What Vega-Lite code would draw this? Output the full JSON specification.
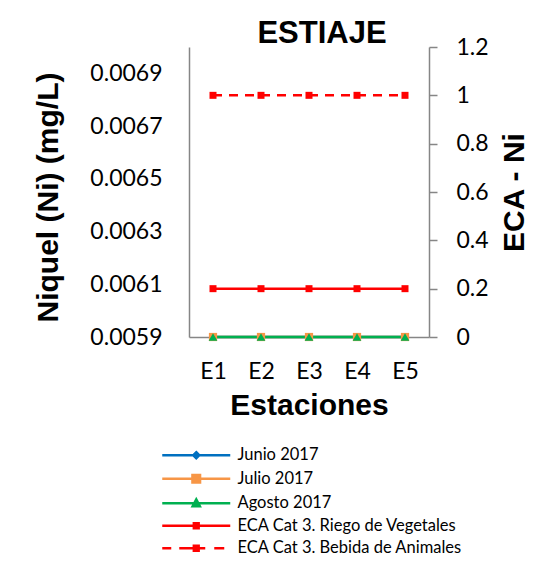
{
  "$schema": "https://vega.github.io/schema/vega-lite/v6.json",
  "width": 240,
  "height": 290,
  "autosize": {"type": "none"},
  "padding": {"left": 189, "top": 47, "right": 118, "bottom": 230},
  "background": "white",
  "config": {
    "view": {"stroke": null},
    "axis": {"grid": false, "domainColor": "#868686", "domainWidth": 1.5, "tickColor": "#868686", "tickWidth": 1.5,
      "labelFont": "Lato", "labelFontSize": 23, "labelColor": "black",
      "titleFont": "Liberation Sans", "titleFontSize": 30, "titleFontWeight": "bold", "titleColor": "black"}
  },
  "title": {"text": "ESTIAJE", "font": "Liberation Sans", "fontSize": 31, "fontWeight": "bold", "color": "black", "anchor": "middle", "frame": "group", "dx": 13, "offset": -14},
  "data": {"values": [
    {"estacion": "E1", "serie": "Junio 2017", "eje": "izq", "valor": 0.0059},
    {"estacion": "E2", "serie": "Junio 2017", "eje": "izq", "valor": 0.0059},
    {"estacion": "E3", "serie": "Junio 2017", "eje": "izq", "valor": 0.0059},
    {"estacion": "E4", "serie": "Junio 2017", "eje": "izq", "valor": 0.0059},
    {"estacion": "E5", "serie": "Junio 2017", "eje": "izq", "valor": 0.0059},
    {"estacion": "E1", "serie": "Julio 2017", "eje": "izq", "valor": 0.0059},
    {"estacion": "E2", "serie": "Julio 2017", "eje": "izq", "valor": 0.0059},
    {"estacion": "E3", "serie": "Julio 2017", "eje": "izq", "valor": 0.0059},
    {"estacion": "E4", "serie": "Julio 2017", "eje": "izq", "valor": 0.0059},
    {"estacion": "E5", "serie": "Julio 2017", "eje": "izq", "valor": 0.0059},
    {"estacion": "E1", "serie": "Agosto 2017", "eje": "izq", "valor": 0.0059},
    {"estacion": "E2", "serie": "Agosto 2017", "eje": "izq", "valor": 0.0059},
    {"estacion": "E3", "serie": "Agosto 2017", "eje": "izq", "valor": 0.0059},
    {"estacion": "E4", "serie": "Agosto 2017", "eje": "izq", "valor": 0.0059},
    {"estacion": "E5", "serie": "Agosto 2017", "eje": "izq", "valor": 0.0059},
    {"estacion": "E1", "serie": "ECA Cat 3. Riego de Vegetales", "eje": "der", "valor": 0.2},
    {"estacion": "E2", "serie": "ECA Cat 3. Riego de Vegetales", "eje": "der", "valor": 0.2},
    {"estacion": "E3", "serie": "ECA Cat 3. Riego de Vegetales", "eje": "der", "valor": 0.2},
    {"estacion": "E4", "serie": "ECA Cat 3. Riego de Vegetales", "eje": "der", "valor": 0.2},
    {"estacion": "E5", "serie": "ECA Cat 3. Riego de Vegetales", "eje": "der", "valor": 0.2},
    {"estacion": "E1", "serie": "ECA Cat 3. Bebida de Animales", "eje": "der", "valor": 1},
    {"estacion": "E2", "serie": "ECA Cat 3. Bebida de Animales", "eje": "der", "valor": 1},
    {"estacion": "E3", "serie": "ECA Cat 3. Bebida de Animales", "eje": "der", "valor": 1},
    {"estacion": "E4", "serie": "ECA Cat 3. Bebida de Animales", "eje": "der", "valor": 1},
    {"estacion": "E5", "serie": "ECA Cat 3. Bebida de Animales", "eje": "der", "valor": 1}
  ]},
  "encoding": {
    "x": {"field": "estacion", "type": "ordinal", "sort": ["E1", "E2", "E3", "E4", "E5"],
      "scale": {"type": "point", "padding": 0.5},
      "axis": {"title": "Estaciones", "labelAngle": 0, "ticks": false, "tickSize": 0, "labelPadding": 23,
        "titleX": 120, "titleY": 77, "titleBaseline": "alphabetic", "titleAlign": "center"}},
    "color": {"field": "serie", "type": "nominal",
      "scale": {"domain": ["Junio 2017", "Julio 2017", "Agosto 2017", "ECA Cat 3. Riego de Vegetales", "ECA Cat 3. Bebida de Animales"],
        "range": ["#0070C0", "#F79646", "#00B050", "#FF0000", "#FF0000"]},
      "legend": {"orient": "none", "legendX": -1, "legendY": 400, "title": null,
        "labelFont": "Lato", "labelFontSize": 16.5, "labelColor": "black", "labelOffset": 33, "labelLimit": 400,
        "symbolSize": 16, "symbolStrokeWidth": 1.5, "rowPadding": 5.5,
        "encode": {"symbols": {"update": {
          "shape": {"signal": "datum.value === 'Junio 2017' ? 'M-17,0H17M0,-1.5L1.5,0L0,1.5L-1.5,0Z' : datum.value === 'Julio 2017' ? 'M-17,0H17M-1.9,-1.9H1.9V1.9H-1.9Z' : datum.value === 'Agosto 2017' ? 'M-17,0H17M0,-1.9L1.8,1.5H-1.8Z' : datum.value === 'ECA Cat 3. Riego de Vegetales' ? 'M-17,0H17M-1.2,-1.2H1.2V1.2H-1.2Z' : 'M-17,0H-12.5M-8.5,0H4.5M9,0H14M-1.2,-1.2H1.2V1.2H-1.2Z'"},
          "fill": {"scale": "color", "field": "value"},
          "stroke": {"scale": "color", "field": "value"},
          "strokeWidth": {"value": 2.5},
          "strokeDash": {"value": []},
          "opacity": {"value": 1}
        }}}}
    }
  },
  "layer": [
    {
      "transform": [{"filter": "datum.eje === 'izq'"}],
      "encoding": {
        "y": {"field": "valor", "type": "quantitative",
          "scale": {"domain": [0.0059, 0.007], "nice": false, "zero": false},
          "axis": {"orient": "left", "title": "Niquel (Ni) (mg/L)", "values": [0.0059, 0.0061, 0.0063, 0.0065, 0.0067, 0.0069],
            "format": ".4f", "ticks": false, "tickSize": 0, "labelPadding": 27,
            "titleX": -141, "titleY": 150, "titleAngle": 270, "titleBaseline": "middle", "titleAlign": "center"}}
      },
      "layer": [
        {"mark": {"type": "line", "strokeWidth": 2.7}},
        {"mark": {"type": "point", "filled": true, "opacity": 1},
          "encoding": {
            "shape": {"field": "serie", "type": "nominal", "legend": null,
              "scale": {"domain": ["Junio 2017", "Julio 2017", "Agosto 2017"], "range": ["diamond", "square", "triangle-up"]}},
            "size": {"field": "serie", "type": "nominal", "legend": null,
              "scale": {"domain": ["Junio 2017", "Julio 2017", "Agosto 2017"], "range": [60, 75, 60]}}
          }}
      ]
    },
    {
      "transform": [{"filter": "datum.eje === 'der'"}],
      "encoding": {
        "y": {"field": "valor", "type": "quantitative",
          "scale": {"domain": [0, 1.2], "nice": false},
          "axis": {"orient": "right", "title": "ECA - Ni", "values": [0, 0.2, 0.4, 0.6, 0.8, 1, 1.2],
            "format": "~g", "tickSize": 8, "labelPadding": 19,
            "titleX": 85, "titleY": 145, "titleAngle": 270, "titleBaseline": "middle", "titleAlign": "center"}}
      },
      "layer": [
        {"mark": {"type": "line", "strokeWidth": 2.5},
          "encoding": {"strokeDash": {"field": "serie", "type": "nominal", "legend": null,
            "scale": {"domain": ["ECA Cat 3. Riego de Vegetales", "ECA Cat 3. Bebida de Animales"], "range": [[1, 0], [9, 7]]}}}},
        {"mark": {"type": "point", "filled": true, "opacity": 1, "shape": "square", "size": 49}}
      ]
    }
  ],
  "resolve": {"scale": {"y": "independent", "shape": "independent", "size": "independent", "strokeDash": "independent"}}
}
